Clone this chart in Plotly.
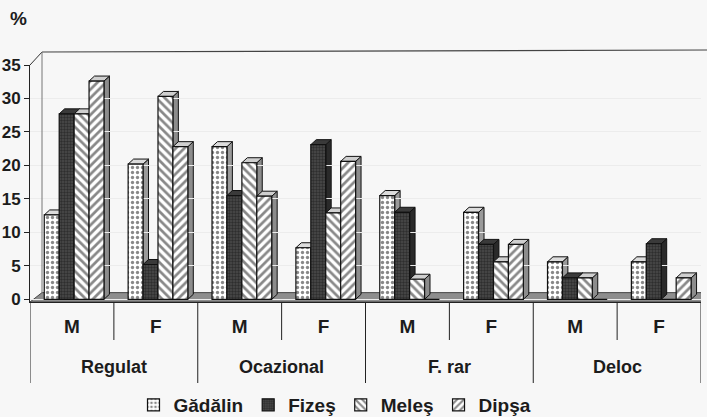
import plotly.graph_objects as go

# ---- data -------------------------------------------------------------
groups = ["Regulat", "Ocazional", "F. rar", "Deloc"]
sexes = ["M", "F"]
series_names = ["Gădălin", "Fizeş", "Meleş", "Dipşa"]

gadalin = [12.6, 20.2, 22.8, 7.7, 15.5, 13.0, 5.6, 5.6]
fizes = [27.7, 5.2, 15.5, 23.1, 13.0, 8.2, 3.2, 8.3]
meles = [27.7, 30.3, 20.4, 12.9, 3.0, 5.6, 3.2, 0.0]
dipsa = [32.6, 22.8, 15.4, 20.6, 0.0, 8.2, 0.0, 3.2]

y_ticks = [0, 5, 10, 15, 20, 25, 30, 35]

# ---- styling ----------------------------------------------------------
values = [gadalin, fizes, meles, dipsa]
patterns = [
    dict(shape=".", bgcolor="#ffffff", fgcolor="#111111", size=5, solidity=0.35),
    dict(shape=".", bgcolor="#4a4a4a", fgcolor="#111111", size=3, solidity=0.5),
    dict(shape="\\", bgcolor="#ffffff", fgcolor="#111111", size=6, solidity=0.45),
    dict(shape="/", bgcolor="#ffffff", fgcolor="#111111", size=6, solidity=0.45),
]
top_colors = ["#dcdcdc", "#3a3a3a", "#cfcfcf", "#cfcfcf"]
side_colors = ["#9a9a9a", "#2a2a2a", "#8c8c8c", "#8c8c8c"]

FONT = "Liberation Sans, Arial, sans-serif"
INK = "#1c1c1c"
BW = 0.178          # bar width (category units)
START = -0.33       # left edge of first bar relative to category centre
DX, DY = 0.065, 0.75  # 3D depth offset (x in categories, y in value units)
Y0 = -0.4           # front edge of the floor

n_cat = len(groups) * len(sexes)
pos = list(range(n_cat))
tick_text = sexes * len(groups)

# plot area in pixels (used for paper-referenced decorations)
L, R, T, B = 30, 701, 65, 302
W, H = R - L, B - T


def px_x(p):
    return (p - L) / W


def px_y(p):
    return (B - p) / H


def bold(s):
    return f"<b>{s}</b>"


fig = go.Figure()

for i, (name, vals) in enumerate(zip(series_names, values)):
    fig.add_trace(go.Bar(
        x=pos, y=vals, name=bold(name),
        width=BW, offset=START + i * BW,
        marker=dict(color=patterns[i]["bgcolor"], pattern=patterns[i],
                    line=dict(color="#111111", width=1.2)),
    ))

shapes = []

# floor
shapes.append(dict(
    type="path", xref="x", yref="y", layer="below",
    path=f"M -0.5,{Y0} L 7.5,{Y0} L 7.65,{Y0 + 1.4} L -0.357,{Y0 + 1.4} Z",
    fillcolor="#8e8e8e", line=dict(color="#444444", width=1),
))

# top and side faces of each bar
for i, vals in enumerate(values):
    for c, v in enumerate(vals):
        if v <= 0:
            continue
        x0 = c + START + i * BW
        x1 = x0 + BW
        shapes.append(dict(
            type="path", xref="x", yref="y", layer="below",
            path=f"M {x1},0 L {x1},{v} L {x1 + DX},{v + DY} L {x1 + DX},{DY} Z",
            fillcolor=side_colors[i], line=dict(color="#111111", width=1),
        ))
        shapes.append(dict(
            type="path", xref="x", yref="y", layer="below",
            path=f"M {x0},{v} L {x0 + DX},{v + DY} L {x1 + DX},{v + DY} L {x1},{v} Z",
            fillcolor=top_colors[i], line=dict(color="#111111", width=1),
        ))

# back wall outline
wall_x, wall_top = 42, 52
shapes += [
    dict(type="line", xref="paper", yref="paper", x0=px_x(L), y0=px_y(T),
         x1=px_x(wall_x), y1=px_y(wall_top), line=dict(color="#333", width=1)),
    dict(type="line", xref="paper", yref="paper", x0=px_x(wall_x), y0=px_y(wall_top),
         x1=px_x(707), y1=px_y(wall_top - 2), line=dict(color="#444", width=1.2)),
    dict(type="line", xref="paper", yref="paper", x0=px_x(wall_x), y0=px_y(wall_top),
         x1=px_x(wall_x), y1=px_y(293), line=dict(color="#777", width=1)),
]

# category separators below the floor
for c in range(n_cat + 1):
    xb = c - 0.5
    bottom = 383 if c % 2 == 0 else 340
    shapes.append(dict(
        type="line", xref="x", yref="paper", x0=xb, x1=xb,
        y0=0, y1=px_y(bottom), line=dict(color="#222222", width=1),
    ))

annotations = [
    dict(text=bold("%"), xref="paper", yref="paper", x=px_x(18), y=px_y(19),
         xanchor="center", yanchor="middle",
         showarrow=False, font=dict(family=FONT, size=19, color=INK)),
]
for g, name in enumerate(groups):
    annotations.append(dict(
        text=bold(name), xref="x", yref="paper", x=2 * g + 0.5, y=px_y(367),
        xanchor="center", yanchor="middle",
        showarrow=False, font=dict(family=FONT, size=18, color=INK),
    ))

fig.update_layout(
    width=707, height=417,
    margin=dict(l=L, r=707 - R, t=T, b=417 - B, autoexpand=False),
    paper_bgcolor="#f7f7f7", plot_bgcolor="rgba(0,0,0,0)",
    barmode="overlay", shapes=shapes, annotations=annotations,
    font=dict(family=FONT, size=17, color=INK),
    xaxis=dict(
        range=[-0.5, 7.5], tickvals=pos, ticktext=[bold(t) for t in tick_text],
        showgrid=False, zeroline=False, showline=True, automargin=False,
        linecolor="#222", linewidth=1, ticks="",
        ticklabelstandoff=7, tickfont=dict(size=19),
    ),
    yaxis=dict(
        range=[Y0, 35], tickvals=y_ticks, ticktext=[bold(t) for t in y_ticks],
        showgrid=True, automargin=False,
        gridcolor="#ececec", zeroline=False, showline=True,
        linecolor="#222", linewidth=1, ticks="outside", ticklen=5,
        tickcolor="#222", tickfont=dict(size=17),
    ),
    legend=dict(
        orientation="h", x=px_x(335), xanchor="center", y=px_y(405), yanchor="middle",
        font=dict(size=19), bgcolor="rgba(0,0,0,0)", itemwidth=30,
    ),
    showlegend=True,
)

fig.write_html("out.html")
